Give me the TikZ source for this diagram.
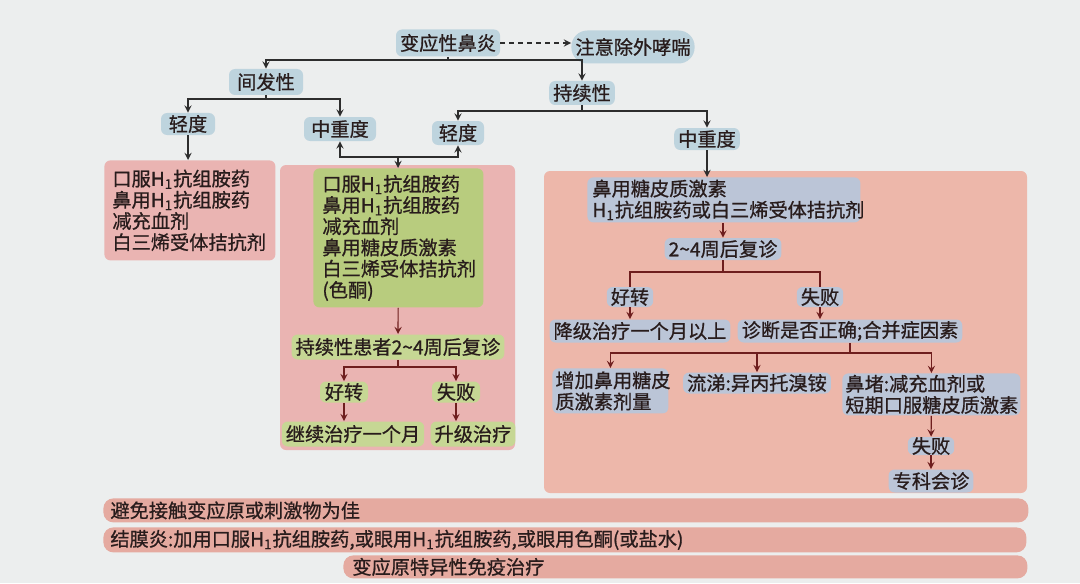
\documentclass[tikz,border=0pt]{standalone}
\usepackage{fontspec}
\usepackage{xcolor}
\usepackage{tikz}
\newfontfamily\cjk[FakeBold=0.8]{Noto Sans CJK SC}
\definecolor{paper}{RGB}{236,238,238}
\definecolor{ink}{RGB}{40,28,28}
\definecolor{topblue}{RGB}{190,212,222}
\definecolor{lavender}{RGB}{187,197,215}
\definecolor{leaf}{RGB}{184,204,126}
\definecolor{leaflight}{RGB}{198,215,148}
\definecolor{pinkA}{RGB}{234,180,178}
\definecolor{salmon}{RGB}{237,183,170}
\definecolor{barpink}{RGB}{229,170,160}
\definecolor{linegrey}{RGB}{45,45,45}
\definecolor{linered}{RGB}{110,30,30}

\begin{document}
\begin{tikzpicture}[x=0.5pt,y=-0.5pt,>=stealth,
  every node/.style={font=\fontsize{9.6}{10.6}\selectfont\cjk,text=ink},
  lab/.style={rectangle,rounded corners=3pt,fill=topblue,inner xsep=2pt,inner ysep=0pt},
  grn/.style={rectangle,rounded corners=3pt,fill=leaflight,inner xsep=2pt,inner ysep=0pt},
  lav/.style={rectangle,rounded corners=3pt,fill=lavender,inner xsep=2pt,inner ysep=0pt},
  list/.style={anchor=north west,rounded corners=3pt,inner ysep=0pt,align=left},
  bar/.style={anchor=north west,rounded corners=5pt,fill=barpink,inner ysep=0pt,align=left},
  darr/.style={draw=linegrey,line width=0.6pt},
  rarr/.style={draw=linered,line width=0.6pt}]
\useasboundingbox (0,0) rectangle (1080,583);
\fill[paper] (0,0) rectangle (1080,583);

% panels
\fill[pinkA,rounded corners=3pt] (280,165) rectangle (515,450);
\fill[salmon,rounded corners=3pt] (544,171) rectangle (1027,493);

% top levels
\node (1) at (448,43) [lab,minimum width=48.5pt,minimum height=13.5pt] {变应性鼻炎};
\node (2) at (633,47) [lab,rounded corners=8pt,minimum width=60pt,minimum height=16.5pt] {注意除外哮喘};
\node (3) at (266,82) [lab,minimum width=37pt,minimum height=13pt] {间发性};
\node (4) at (582,93) [lab,minimum width=31.5pt,minimum height=12pt] {持续性};
\node (5) at (188,124) [lab,minimum width=27pt,minimum height=11pt] {轻度};
\node (6) at (340,129) [lab,minimum width=36pt,minimum height=12pt] {中重度};
\node (7) at (458,133) [lab,minimum width=26pt,minimum height=12pt] {轻度};
\node (8) at (707,139) [lab,minimum width=32pt,minimum height=11pt] {中重度};

\coordinate (j1) at (448,60);
\coordinate (j2) at (266,99);
\coordinate (j3) at (582,111);
\coordinate (j4) at (398,157);

\draw[darr,->,dash pattern=on 2.5pt off 2pt] (1.east) -- (1.east -| 2.west);
\draw[darr] (1) -- (j1);
\draw[darr,->] (j1) -| (3);
\draw[darr,->] (j1) -| (4);
\draw[darr] (3) -- (j2);
\draw[darr,->] (j2) -| (5);
\draw[darr,->] (j2) -| (6);
\draw[darr] (4) -- (j3);
\draw[darr,->] (j3) -| (7);
\draw[darr,->] (j3) -| (8);

% mild intermittent
\node (9) at (104,160) [list,fill=pinkA,inner xsep=4pt,text width=77.5pt,minimum height=50pt] {口服H\textsubscript{1}抗组胺药\\鼻用H\textsubscript{1}抗组胺药\\减充血剂\\白三烯受体拮抗剂};
\draw[darr,->] (5) -- (5 |- 9.north);

% moderate intermittent and mild persistent
\node (10) at (313,168) [list,fill=leaf,inner xsep=4.5pt,text width=76pt,minimum height=69.5pt] {口服H\textsubscript{1}抗组胺药\\鼻用H\textsubscript{1}抗组胺药\\减充血剂\\鼻用糖皮质激素\\白三烯受体拮抗剂\\(色酮)};
\draw[darr,->] (j4) -| (6);
\draw[darr,->] (j4) -| (7);
\draw[darr,->] (j4) -- (j4 |- 10.north);

\node (12) at (398,347) [grn,minimum width=105pt,minimum height=12.5pt] {持续性患者2\textasciitilde4周后复诊};
\node (13) at (344,392) [grn,minimum width=24pt,minimum height=10.5pt] {好转};
\node (14) at (456,392) [grn,minimum width=24pt,minimum height=10.5pt] {失败};
\node (15) at (353,434) [grn,minimum width=66.5pt,minimum height=12.5pt] {继续治疗一个月};
\node (16) at (473,434) [grn,minimum width=40.5pt,minimum height=12.5pt] {升级治疗};
\coordinate (j5) at (398,367);
\draw[rarr,->] (10) -- (12);
\draw[rarr] (12) -- (j5);
\draw[rarr,->] (j5) -| (13);
\draw[rarr,->] (j5) -| (14);
\draw[rarr,->] (13) -- (13 |- 15.north);
\draw[rarr,->] (14) -- (14 |- 16.north);

% moderate persistent
\node (11) at (587,177) [list,fill=lavender,inner xsep=2.5pt,text width=131.5pt,minimum height=22.5pt] {鼻用糖皮质激素\\H\textsubscript{1}抗组胺药或白三烯受体拮抗剂};
\draw[darr,->] (8) -- (8 |- 11.north);

\node (17) at (723,249) [lav,minimum width=56pt,minimum height=11pt] {2\textasciitilde4周后复诊};
\node (18) at (630,297) [lav,minimum width=22pt,minimum height=10pt] {好转};
\node (19) at (820,297) [lav,minimum width=22pt,minimum height=10pt] {失败};
\node (20) at (640,331) [lav,minimum width=87pt,minimum height=11.5pt] {降级治疗一个月以上};
\node (21) at (850,331) [lav,minimum width=110pt,minimum height=11.5pt] {诊断是否正确;合并症因素};
\coordinate (j6) at (723,272);
\draw[rarr,->] (17 |- 11.south) -- (17);
\draw[rarr] (17) -- (j6);
\draw[rarr] (j6) -| (18);
\draw[rarr] (j6) -| (19);
\draw[rarr,->] (18) -- (18 |- 20.north);
\draw[rarr,->] (19) -- (19 |- 21.north);

\node (22) at (552,368) [list,fill=lavender,inner xsep=1.5pt,text width=55pt,minimum height=22.5pt] {增加鼻用糖皮\\质激素剂量};
\node (23) at (757,383) [lav,minimum width=72.5pt,minimum height=10.5pt] {流涕:异丙托溴铵};
\node (24) at (842,373) [list,fill=lavender,inner xsep=1.5pt,text width=86pt,minimum height=21pt] {鼻堵:减充血剂或\\短期口服糖皮质激素};
\node (25) at (931,446) [lav,minimum width=22pt,minimum height=9pt] {失败};
\node (26) at (931,481) [lav,minimum width=39pt,minimum height=11.5pt] {专科会诊};
\coordinate (j7) at (850,353);
\draw[rarr] (21) -- (j7);
\draw[rarr,->] (j7) -| (22);
\draw[rarr,->] (j7) -| (23);
\draw[rarr,->] (j7) -| (24);
\draw[rarr,->] (24) -- (25);
\draw[rarr,->] (25) -- (26);

% general measures
\node (27) at (103,498) [bar,inner xsep=3.5pt,text width=455.5pt,minimum height=12pt] {避免接触变应原或刺激物为佳};
\node (28) at (103,527) [bar,inner xsep=3.5pt,text width=454.5pt,minimum height=12.5pt] {结膜炎:加用口服H\textsubscript{1}抗组胺药,或眼用H\textsubscript{1}抗组胺药,或眼用色酮(或盐水)};
\node (29) at (343,555) [bar,inner xsep=4.5pt,text width=333pt,minimum height=11.5pt] {变应原特异性免疫治疗};
\end{tikzpicture}
\end{document}
